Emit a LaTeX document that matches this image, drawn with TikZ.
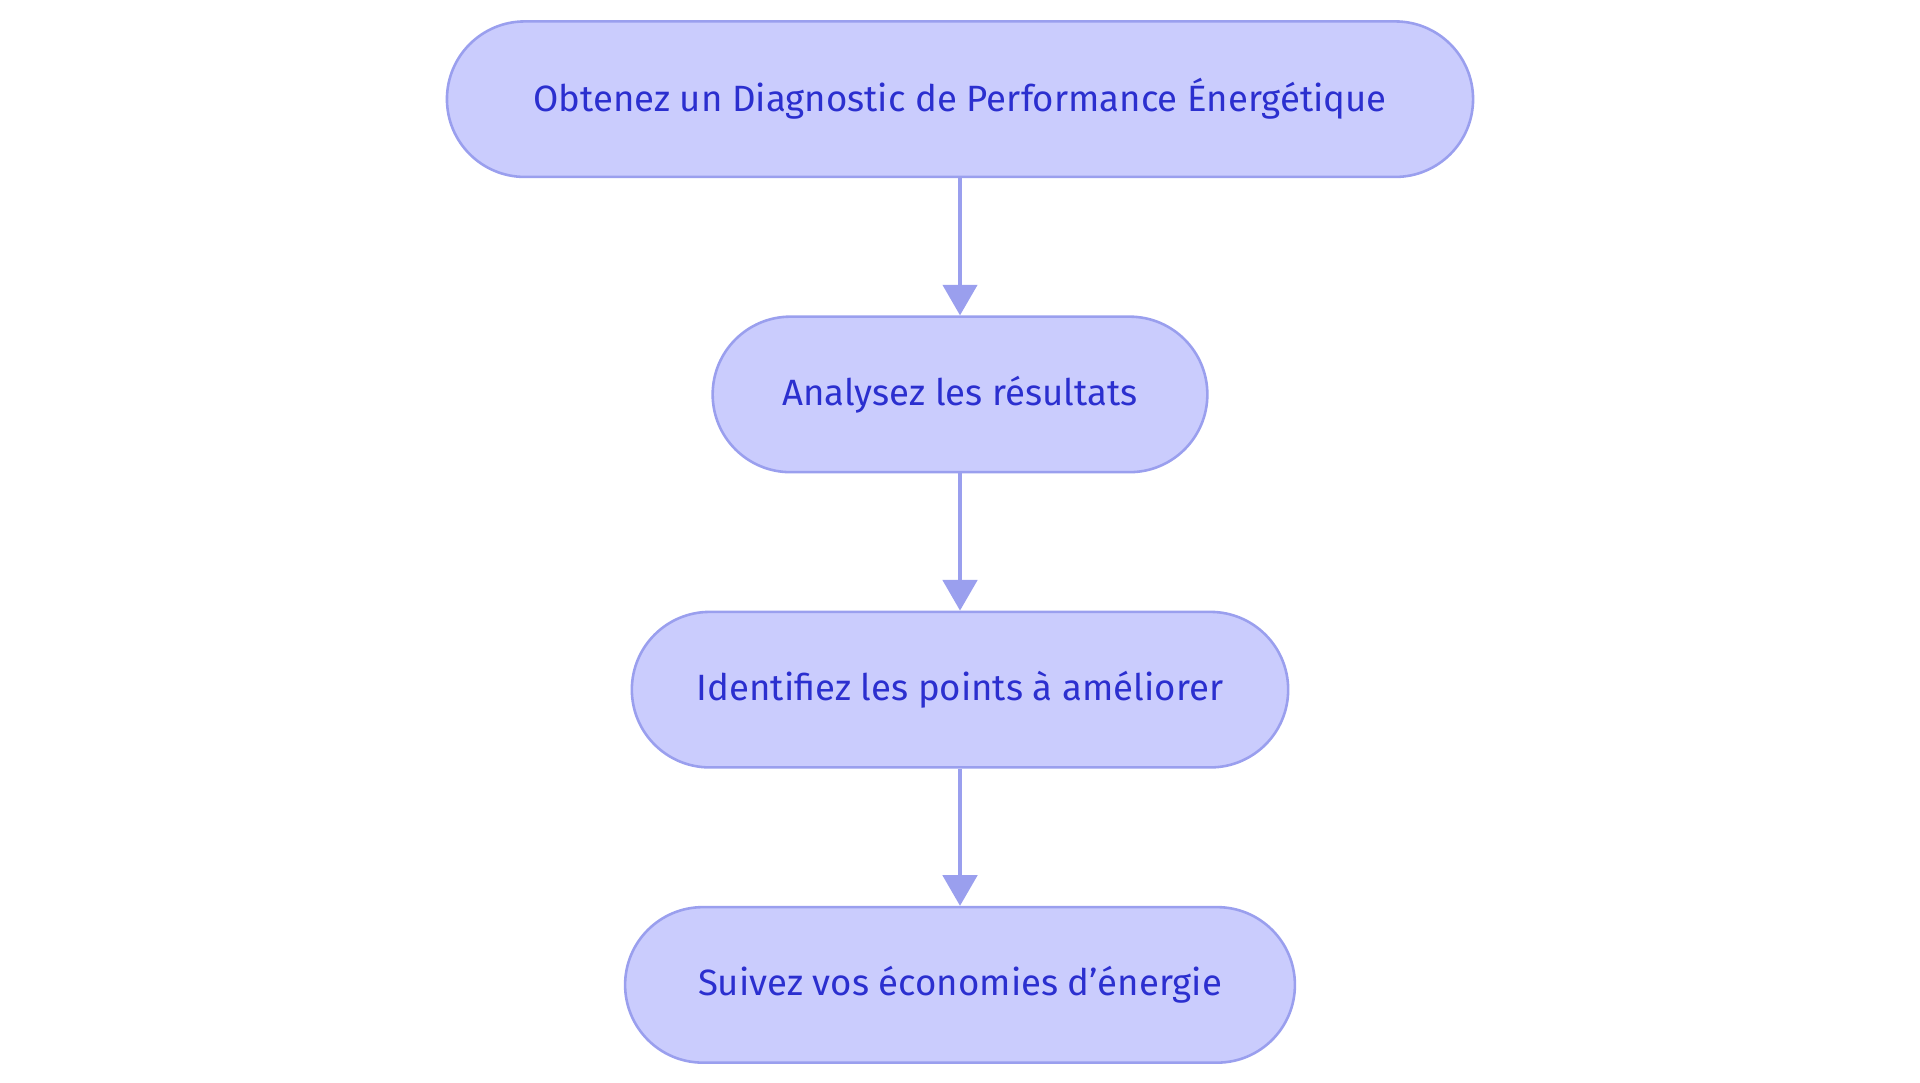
\documentclass[tikz,border=0pt]{standalone}
\usepackage{fontspec}
\setmainfont{Fira Sans}
\usetikzlibrary{positioning,arrows.meta}
\definecolor{stepfill}{HTML}{CACCFD}
\definecolor{stepline}{HTML}{9A9FEE}
\definecolor{steptext}{HTML}{2B2FCF}
\tikzset{
  pill/.style={draw=stepline,line width=1.2pt,fill=stepfill,text=steptext,
    rounded corners=1.27cm,minimum height=2.54cm,inner sep=0pt,
    font=\fontsize{17}{20}\selectfont},
  flow/.style={draw=stepline,line width=1.8pt,-{Triangle[length=0.5cm,width=0.56cm]}}
}
\begin{document}
\begin{tikzpicture}
  \useasboundingbox (0,0) rectangle (31.36,-17.68);
  \node[pill,minimum width=16.76cm] (obtenez) at (15.68,-1.62) {Obtenez un Diagnostic de Performance Énergétique};
  \node[pill,minimum width=8.08cm,below=2.24cm of obtenez] (analysez) {Analysez les résultats};
  \node[pill,minimum width=10.72cm,below=2.24cm of analysez] (identifiez) {Identifiez les points à améliorer};
  \node[pill,minimum width=10.94cm,below=2.24cm of identifiez] (suivez) {Suivez vos économies d'énergie};
  % steps
  \draw[flow] (obtenez) -- (analysez);
  \draw[flow] (analysez) -- (identifiez);
  \draw[flow] (identifiez) -- (suivez);
\end{tikzpicture}
\end{document}
